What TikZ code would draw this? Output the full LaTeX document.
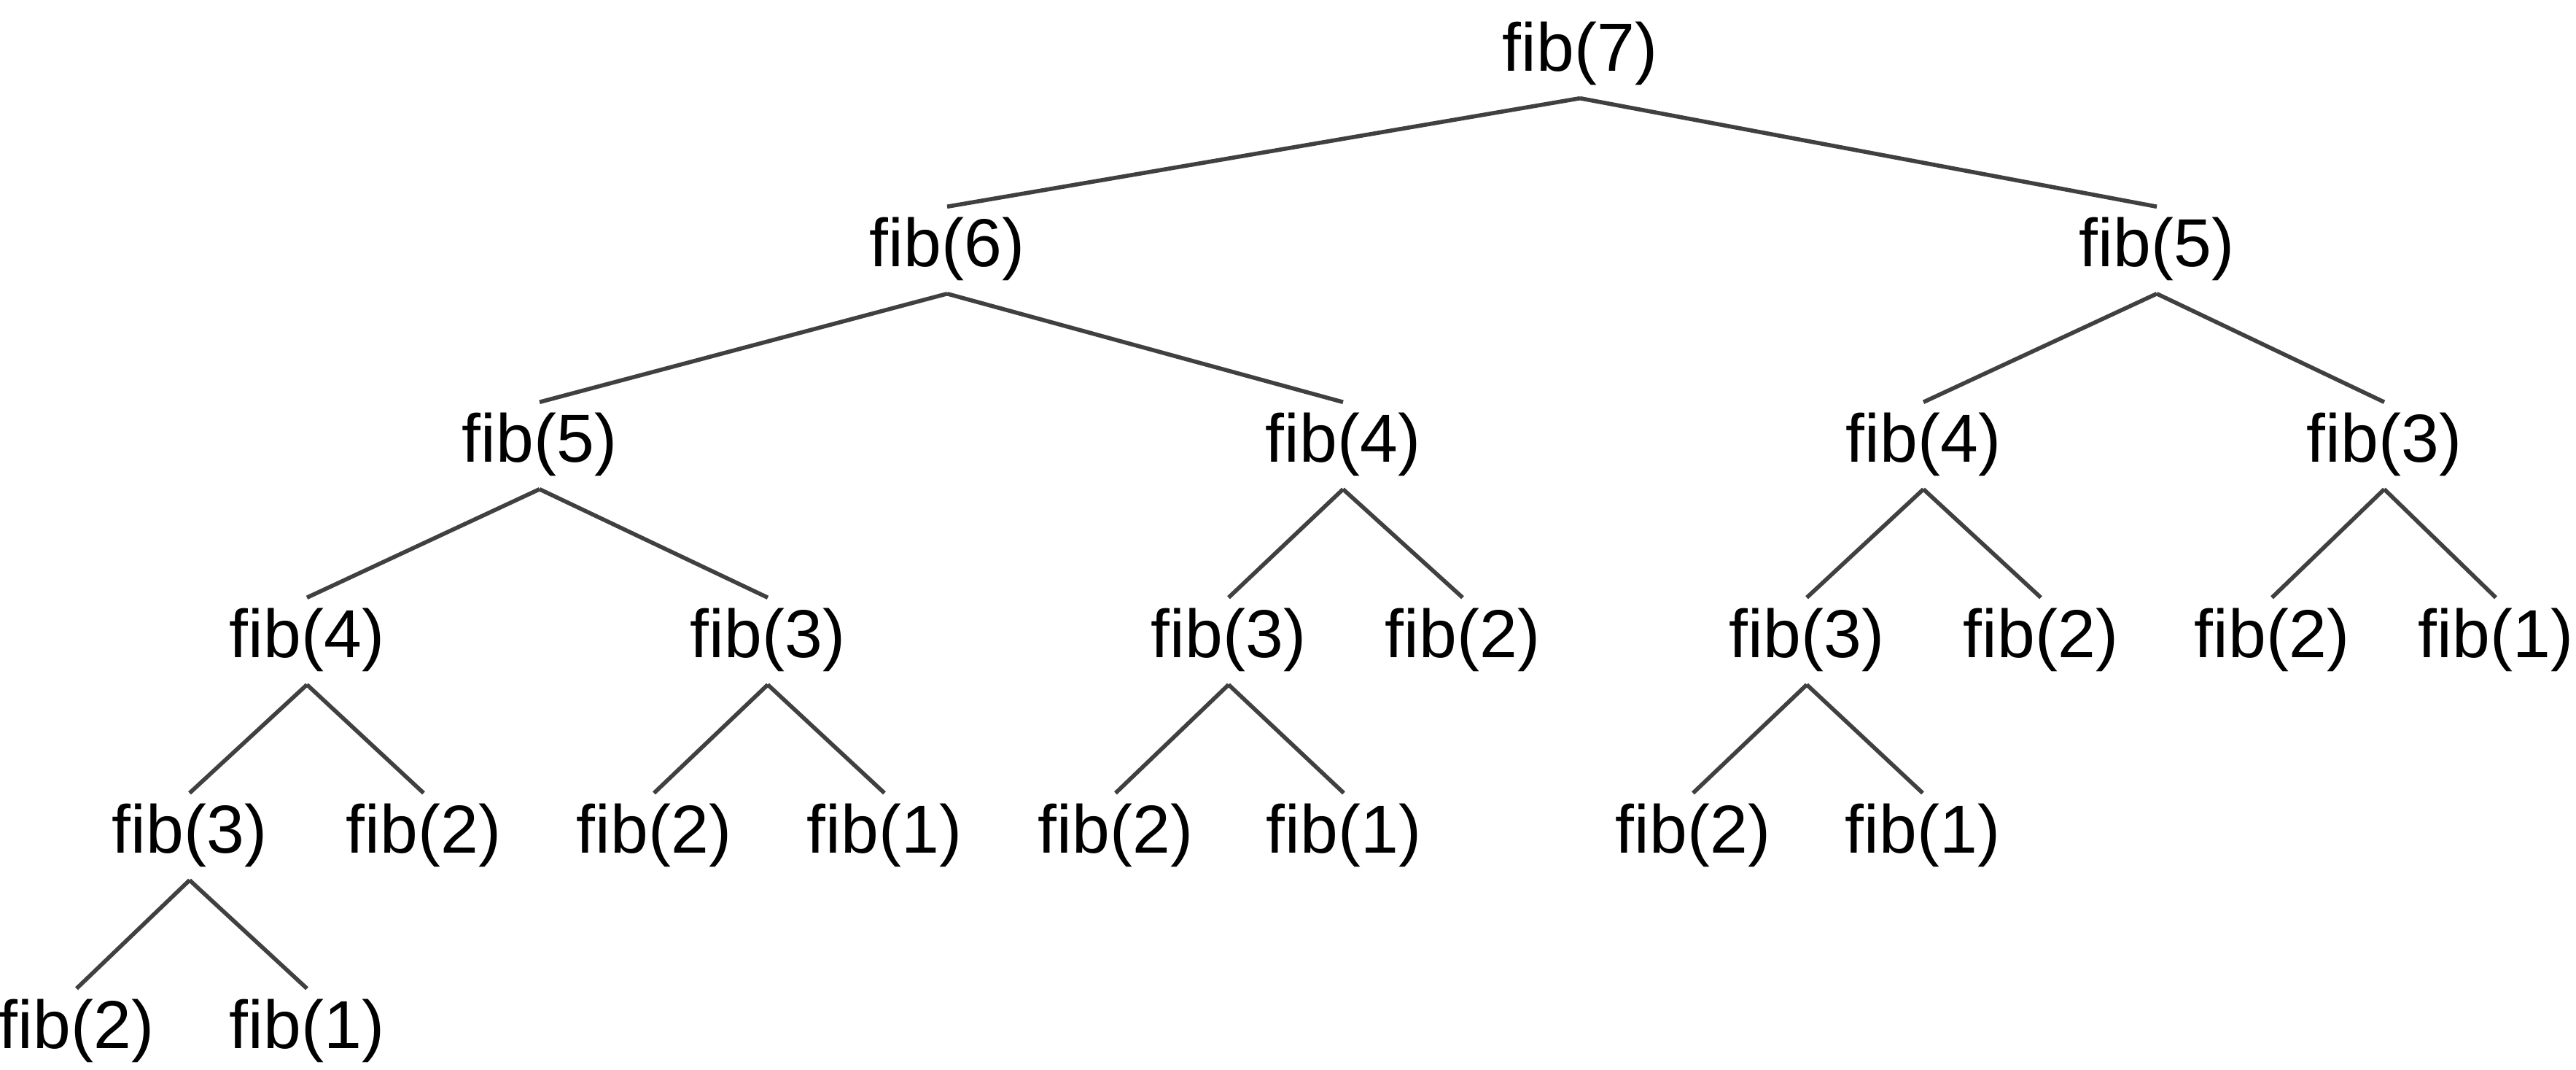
\documentclass[tikz,border=0pt]{standalone}
\usepackage{fontspec}
\setmainfont{Liberation Sans}

\begin{document}
\begin{tikzpicture}[
    call/.style={anchor=base, inner xsep=0pt, inner ysep=0.14cm,
                 text height=0.67cm, text depth=0.23cm,
                 font=\fontsize{26.5}{30}\selectfont},
    link/.style={draw=black!75, line width=1.6pt}]
            \useasboundingbox (0,0) rectangle (35.33,-14.66);
            % level 0 and 1
            \node[call] (F7) at (21.67,-0.97) {fib(7)};
            \node[call] (F6) at (12.99,-3.65) {fib(6)};
            \node[call] (F5) at (29.58,-3.65) {fib(5)};
            % level 2
            \node[call] (F6a) at (7.40,-6.33) {fib(5)};
            \node[call] (F6b) at (18.42,-6.33) {fib(4)};
            \node[call] (F5a) at (26.38,-6.33) {fib(4)};
            \node[call] (F5b) at (32.70,-6.33) {fib(3)};
            % level 3
            \node[call] (F6aa) at (4.21,-9.01) {fib(4)};
            \node[call] (F6ab) at (10.53,-9.01) {fib(3)};
            \node[call] (F6ba) at (16.85,-9.01) {fib(3)};
            \node[call] (F6bb) at (20.06,-9.01) {fib(2)};
            \node[call] (F5aa) at (24.78,-9.01) {fib(3)};
            \node[call] (F5ab) at (27.99,-9.01) {fib(2)};
            \node[call] (F5ba) at (31.16,-9.01) {fib(2)};
            \node[call] (F5bb) at (34.23,-9.01) {fib(1)};
            % level 4
            \node[call] (F6aaa) at (2.60,-11.69) {fib(3)};
            \node[call] (F6aab) at (5.81,-11.69) {fib(2)};
            \node[call] (F6aba) at (8.97,-11.69) {fib(2)};
            \node[call] (F6abb) at (12.13,-11.69) {fib(1)};
            \node[call] (F6baa) at (15.30,-11.69) {fib(2)};
            \node[call] (F6bab) at (18.43,-11.69) {fib(1)};
            \node[call] (F5aaa) at (23.22,-11.69) {fib(2)};
            \node[call] (F5aab) at (26.37,-11.69) {fib(1)};
            % level 5
            \node[call] (F6aaaa) at (1.05,-14.37) {fib(2)};
            \node[call] (F6aaab) at (4.21,-14.37) {fib(1)};
            % calls
            \draw[link] (F7.south) -- (F6.north);
            \draw[link] (F7.south) -- (F5.north);
            \draw[link] (F6.south) -- (F6a.north);
            \draw[link] (F6.south) -- (F6b.north);
            \draw[link] (F5.south) -- (F5a.north);
            \draw[link] (F5.south) -- (F5b.north);
            \draw[link] (F6a.south) -- (F6aa.north);
            \draw[link] (F6a.south) -- (F6ab.north);
            \draw[link] (F6b.south) -- (F6ba.north);
            \draw[link] (F6b.south) -- (F6bb.north);
            \draw[link] (F5a.south) -- (F5aa.north);
            \draw[link] (F5a.south) -- (F5ab.north);
            \draw[link] (F5b.south) -- (F5ba.north);
            \draw[link] (F5b.south) -- (F5bb.north);
            \draw[link] (F6aa.south) -- (F6aaa.north);
            \draw[link] (F6aa.south) -- (F6aab.north);
            \draw[link] (F6ab.south) -- (F6aba.north);
            \draw[link] (F6ab.south) -- (F6abb.north);
            \draw[link] (F6ba.south) -- (F6baa.north);
            \draw[link] (F6ba.south) -- (F6bab.north);
            \draw[link] (F5aa.south) -- (F5aaa.north);
            \draw[link] (F5aa.south) -- (F5aab.north);
            \draw[link] (F6aaa.south) -- (F6aaaa.north);
            \draw[link] (F6aaa.south) -- (F6aaab.north);
        \end{tikzpicture}
\end{document}
